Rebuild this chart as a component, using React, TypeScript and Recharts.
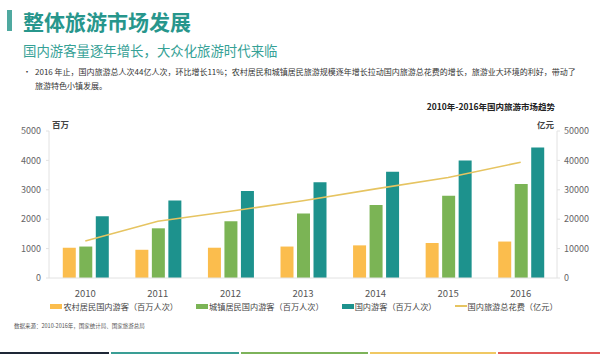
import React from 'react';
import {
  ComposedChart,
  Bar,
  Line,
  XAxis,
  YAxis,
  Legend
} from 'recharts';

const years = ['2010', '2011', '2012', '2013', '2014', '2015', '2016'];
const rural = [1030, 960, 1030, 1070, 1110, 1190, 1240];
const urban = [1070, 1690, 1930, 2190, 2480, 2800, 3200];
const total = [2100, 2640, 2960, 3260, 3610, 4000, 4440];
const spending = [12580, 19305, 22706, 26276, 30312, 34195, 39390];

const seriesNames = [
  '农村居民国内游客（百万人次）',
  '城镇居民国内游客（百万人次）',
  '国内游客（百万人次）',
  '国内旅游总花费（亿元）'
];

const leftTicks = [0, 1000, 2000, 3000, 4000, 5000];
const rightTicks = [0, 10000, 20000, 30000, 40000, 50000];

const data = years.map((year, i) => ({
  year,
  rural: rural[i],
  urban: urban[i],
  total: total[i],
  spending: spending[i]
}));

const FONT = '"Noto Sans CJK SC", "Noto Sans", sans-serif';
const TEAL = '#1d928d';
const GREEN = '#7bb455';
const ORANGE = '#fbbd4d';
const LINE = '#e6c461';

const stripes = [
  { from: 0, to: 109, color: '#1e2736' },
  { from: 111, to: 239, color: '#3a9e95' },
  { from: 241, to: 368, color: '#7db35a' },
  { from: 370, to: 496, color: '#f0c863' },
  { from: 498, to: 600, color: '#e05b5b' }
];

function renderLegend(props: any) {
  // keep the series order of the original legend
  const payload = [...props.payload].sort(
    (a: any, b: any) => seriesNames.indexOf(a.value) - seriesNames.indexOf(b.value)
  );
  return (
    <div style={{ display: 'flex', justifyContent: 'center', fontFamily: FONT, fontSize: 8.2, color: '#444' }}>
      {payload.map((entry: any, i: number) => (
        <div key={i} style={{ display: 'flex', alignItems: 'center', marginRight: i < payload.length - 1 ? 18 : 0 }}>
          <span
            style={{
              display: 'inline-block',
              width: 12,
              height: entry.type === 'line' ? 2 : 5,
              background: entry.color,
              marginRight: 1
            }}
          />
          <span>{entry.value}</span>
        </div>
      ))}
    </div>
  );
}

export default function App() {
  return (
    <div style={{ position: 'fixed', left: 0, top: 0, width: 600, height: 359, background: '#fff', overflow: 'hidden', fontFamily: FONT }}>
      {/* Header */}
      <div style={{ position: 'absolute', left: 7, top: 10, width: 5, height: 21, background: '#4fa9a0' }} />
      <div style={{ position: 'absolute', left: 23, top: 6, fontSize: 21, fontWeight: 'bold', color: '#27968c', lineHeight: '30px', whiteSpace: 'nowrap' }}>
        整体旅游市场发展
      </div>
      <div style={{ position: 'absolute', left: 23, top: 40, fontSize: 13.4, color: '#35a196', lineHeight: '20px', whiteSpace: 'nowrap' }}>
        国内游客量逐年增长，大众化旅游时代来临
      </div>
      <div style={{ position: 'absolute', left: 23, top: 65, fontSize: 8, color: '#333', lineHeight: '14px', width: 575 }}>
        <div style={{ whiteSpace: 'nowrap' }}>
          <span style={{ display: 'inline-block', width: 12 }}>•</span>
          2016 年止，国内旅游总人次44亿人次，环比增长11%；农村居民和城镇居民旅游规模逐年增长拉动国内旅游总花费的增长，旅游业大环境的利好，带动了
        </div>
        <div style={{ paddingLeft: 12 }}>旅游特色小镇发展。</div>
      </div>

      <div style={{ position: 'absolute', right: 45, top: 99, fontSize: 8.5, fontWeight: 'bold', color: '#222', lineHeight: '14px', whiteSpace: 'nowrap' }}>
        2010年-2016年国内旅游市场趋势
      </div>
      <div style={{ position: 'absolute', left: 52, top: 118, fontSize: 8.5, fontWeight: 'bold', color: '#444', lineHeight: '12px' }}>百万</div>
      <div style={{ position: 'absolute', left: 537, top: 118, fontSize: 8.5, fontWeight: 'bold', color: '#444', lineHeight: '12px' }}>亿元</div>

      {/* Chart */}
      <div style={{ position: 'absolute', left: 0, top: 0 }}>
        <ComposedChart
          width={600}
          height={320}
          data={data}
          margin={{ top: 131, right: 0, bottom: 4, left: 8 }}
          barCategoryGap="19%"
          barGap={3.5}
        >
          <XAxis
            dataKey="year"
            height={22}
            tickLine={false}
            axisLine={{ stroke: '#e2e2e2' }}
            tick={{ fontSize: 9.5, fill: '#555', fontFamily: FONT }}
            tickMargin={6}
          />
          <YAxis
            yAxisId="left"
            width={41}
            domain={[0, 5000]}
            ticks={leftTicks}
            axisLine={{ stroke: '#e2e2e2' }}
            tickLine={{ stroke: '#e2e2e2' }}
            tickSize={3}
            tickMargin={5}
            tick={{ fontSize: 9, fill: '#666', fontFamily: FONT }}
          />
          <YAxis
            yAxisId="right"
            orientation="right"
            width={43}
            domain={[0, 50000]}
            ticks={rightTicks}
            axisLine={{ stroke: '#e2e2e2' }}
            tickLine={{ stroke: '#e2e2e2' }}
            tickSize={3}
            tickMargin={4}
            tick={{ fontSize: 9, fill: '#666', fontFamily: FONT, textAnchor: 'start' }}
          />
          <Bar yAxisId="left" dataKey="rural" name={seriesNames[0]} fill={ORANGE} isAnimationActive={false} />
          <Bar yAxisId="left" dataKey="urban" name={seriesNames[1]} fill={GREEN} isAnimationActive={false} />
          <Bar yAxisId="left" dataKey="total" name={seriesNames[2]} fill={TEAL} isAnimationActive={false} />
          <Line
            yAxisId="right"
            type="linear"
            dataKey="spending"
            name={seriesNames[3]}
            stroke={LINE}
            strokeWidth={1.6}
            dot={false}
            legendType="line"
            isAnimationActive={false}
          />
          <Legend verticalAlign="bottom" height={16} content={renderLegend} />
        </ComposedChart>
      </div>

      <div style={{ position: 'absolute', left: 14, top: 322, fontSize: 5.5, color: '#555', lineHeight: '8px', whiteSpace: 'nowrap' }}>
        数据来源：2010-2016年，国家统计局、国家旅游总局
      </div>

      {/* Bottom stripes */}
      {stripes.map((s, i) => (
        <div key={i} style={{ position: 'absolute', left: s.from, top: 352, width: s.to - s.from, height: 2, background: s.color }} />
      ))}
    </div>
  );
}
